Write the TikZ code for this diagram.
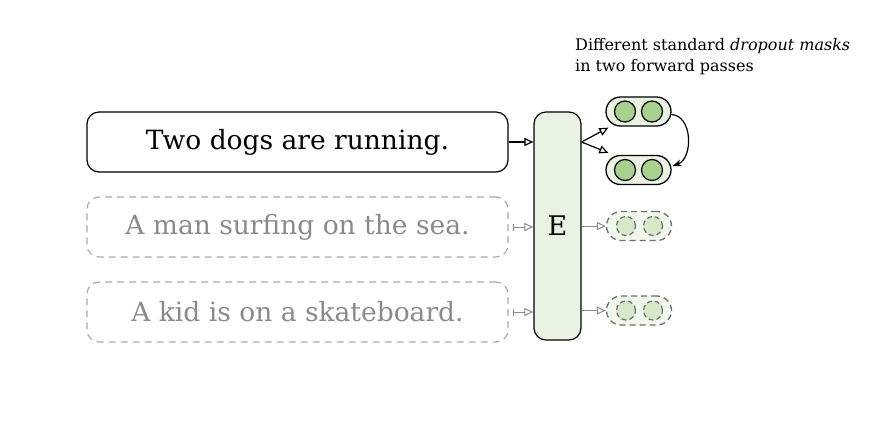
\documentclass[tikz,border=0pt]{standalone}
\usepackage{fontspec}
\setmainfont{DejaVu Serif}
\usetikzlibrary{arrows.meta,calc}
\definecolor{boxgreen}{HTML}{EAF2E3}
\definecolor{dotgreen}{HTML}{A9D18E}
\definecolor{lightdot}{HTML}{D5E8C8}
\definecolor{lightpill}{HTML}{F2F7EE}
\definecolor{graytext}{HTML}{8A8A8A}
\definecolor{grayline}{HTML}{ABABAB}
\definecolor{grayarrow}{HTML}{8C8C8C}
\definecolor{darkdash}{HTML}{6E6E6E}
\tikzset{
  sentbox/.style={draw=black, line width=1.2pt, rounded corners=12pt, minimum width=421pt, minimum height=60pt, inner sep=0pt, font=\fontsize{26.5}{30}\selectfont},
  ghostbox/.style={sentbox, draw=grayline, dashed, dash pattern=on 7pt off 5pt, text=graytext},
  enc/.style={draw=black, line width=1.2pt, fill=boxgreen, rounded corners=12pt, minimum width=47pt, minimum height=228pt, inner sep=0pt, font=\fontsize{27}{30}\selectfont},
  pill/.style={draw=black, line width=1.3pt, fill=boxgreen, rounded corners=14.5pt, minimum width=65pt, minimum height=29pt, inner sep=0pt},
  ghostpill/.style={pill, draw=darkdash, fill=lightpill, dashed, dash pattern=on 6pt off 4pt},
  dot/.style={circle, draw=black, line width=1.2pt, fill=dotgreen, minimum size=21pt, inner sep=0pt},
  ghostdot/.style={dot, draw=darkdash, fill=lightdot, dashed, dash pattern=on 5pt off 3pt, minimum size=19pt},
  conn/.style={line width=1.2pt, -{Triangle[open, length=9pt, width=8pt]}},
  ghostconn/.style={line width=1pt, draw=grayarrow, {Bar[width=7pt]}-{Triangle[open, length=9pt, width=8pt]}},
}
\begin{document}
\begin{tikzpicture}[x=1pt,y=-1pt]
\useasboundingbox (0,0) rectangle (884,424);
\node[sentbox] (s1) at (297.5,142) {Two dogs are running.};
\node[ghostbox] (s2) at (297.5,227) {A man surfing on the sea.};
\node[ghostbox] (s3) at (297.5,312) {A kid is on a skateboard.};
\node[enc] (E) at (557.5,226) {E};
\node[pill] (p1) at (638.5,111.5) {};
\node[pill] (p2) at (638.5,170) {};
\node[ghostpill] (p3) at (639,226) {};
\node[ghostpill] (p4) at (639,310.5) {};
\node[dot] (d1a) at (625,111.5) {};
\node[dot] (d1b) at (652,111.5) {};
\node[dot] (d2a) at (625,170) {};
\node[dot] (d2b) at (652,170) {};
\node[ghostdot] (d3a) at (626,226) {};
\node[ghostdot] (d3b) at (653,226) {};
\node[ghostdot] (d4a) at (626,310.5) {};
\node[ghostdot] (d4b) at (653,310.5) {};
\node[anchor=base west, align=left, inner sep=0pt, font=\fontsize{16}{21.5}\selectfont] (cap) at (575,71.5) {Different standard \textit{dropout masks}\\in two forward passes};
\coordinate (j) at (E.east |- s1.east);
\coordinate (t1) at ($(p1.south west)+(3,1)$);
\coordinate (t2) at ($(p2.north west)+(3,-2)$);
\draw[conn] (s1.east) -- (E.west |- s1.east);
\draw[conn] (j) -- (t1);
\draw[conn] (j) -- (t2);
\draw[line width=1.2pt, -{Stealth[length=9pt, width=7pt]}] ($(p1.east)+(-1,3)$) to[out=0, in=20, looseness=1.1] ($(p2.east)+(1,-4)$);
\draw[ghostconn, shorten <=4pt] (s2.east) -- (E.west |- s2.east);
\draw[ghostconn, shorten <=4pt] (s3.east) -- (E.west |- s3.east);
\draw[ghostconn, -{Triangle[open, length=9pt, width=8pt]}] (E.east |- p3.west) -- (p3.west);
\draw[ghostconn, -{Triangle[open, length=9pt, width=8pt]}] (E.east |- p4.west) -- (p4.west);
\end{tikzpicture}
\end{document}
